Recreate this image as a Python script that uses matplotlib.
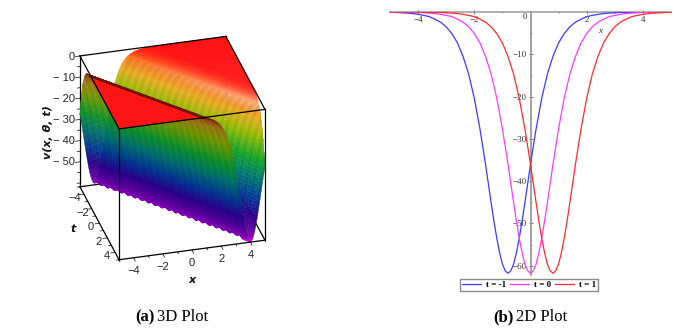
#! /usr/bin/env python
# two panel figure: surface v(x,t) on the left, cuts at t=-1,0,1 on the right
import numpy as np
import matplotlib
matplotlib.use('Agg')
import matplotlib.pyplot as plt
from matplotlib.colors import LinearSegmentedColormap
from mpl_toolkits.mplot3d import proj3d
from mpl_toolkits.mplot3d.art3d import Poly3DCollection

W, H = 688, 329

xi_half = [0, .1, .2, .3, .4, .5, .6, .7, .8, 1, 1.2, 1.4, 1.6, 1.8, 2, 2.2, 2.4, 2.6, 2.8, 3, 3.25, 3.5, 3.75, 4, 4.5, 5, 6, 7, 8, 9.5]
v_half = [-61.8, -61.2, -59.6, -56.9, -53.5, -49.5, -45.1, -40.6, -36.0, -27.6, -20.4, -14.7, -10.5, -7.3, -5.1, -3.5, -2.4, -1.7, -1.1,
          -.8, -.5, -.3, -.2, -.1, -.05, -.02, 0, 0, 0, 0]
# where the trough sits for each cut in the right panel
curve_centre = [-.8, 0, .8]
curve_colors = ['#3a3aff', '#ff3aff', '#ff2a2a']
curve_labels = ['t = -1', 't = 0', 't = 1']
trough_speed = .8  # trough x per unit t, from both panels

x_ticks_2d = [-4, -2, 2, 4]
v_ticks_2d = [-10, -20, -30, -40, -50, -60]
x_ticks_3d = [-4, -2, 0, 2, 4]
t_ticks_3d = [-4, -2, 0, 2, 4]
v_ticks_3d = [0, -10, -20, -30, -40, -50]

# colour against height, top of the surface is red
hue_z = [-61.8, -60.3, -56, -50, -42, -33, -25, -15, -8, -3, 0]
hue_colors = ['#ff10ff', '#8a00c0', '#5a00a0', '#2a0090', '#003f9a', '#008070', '#12a82a', '#98c000', '#eeb020', '#ff7018', '#ff1414']

xi = np.r_[-np.array(xi_half[:0:-1]), xi_half]
prof = np.r_[v_half[:0:-1], v_half]
zmin, zmax = -61.8, 0

plt.rcParams['font.family'] = ['Liberation Serif', 'DejaVu Serif']
fig = plt.figure(figsize=(W/100., H/100.), dpi=100)

# ---- 3D panel
side = 254.
cx, cy = 169., 151.5
ax3 = fig.add_axes([(cx-side/2)/W, 1-(cy+side/2)/H, side/W, side/H], projection='3d', proj_type='ortho')
ax3.set_xlim(-5, 5, view_margin=0)
ax3.set_ylim(5, -5, view_margin=0)
ax3.set_zlim(zmin, zmax, view_margin=0)
ax3.set_box_aspect((1, 1, 1))
ax3.view_init(elev=30, azim=-105)
ax3.set_xticks([])
ax3.set_yticks([])
ax3.set_zticks([])
ax3.set_axis_off()
ax3.computed_zorder = False

# split each profile segment so colours run smoothly down the slope
fine_xi = np.unique(np.concatenate([np.linspace(a, b, int(np.ceil((b-a)/.04))+1) for a, b in zip(xi[:-1], xi[1:])]))
fine_v = np.interp(fine_xi, xi, prof)
rows = np.linspace(-5, 5, 47)
cmap = LinearSegmentedColormap.from_list('zhue', [((z-zmin)/(zmax-zmin), c) for z, c in zip(hue_z, hue_colors)])

def row_z(j):
    # coarse mesh in the original misses the deepest point, which makes the teeth along the bottom
    miss = .012 if j % 2 == 0 else .028
    if j >= len(rows)-3:
        miss = 0.
    return fine_v*(1-miss*(fine_v/zmin)**8)

def row_verts(j):
    # x along one row, cut at the box wall with z taken at the cut
    x = np.clip(fine_xi + trough_speed*rows[j], -5, 5)
    return x, np.interp(x - trough_speed*rows[j], fine_xi, row_z(j))

faces, cols = [], []
for j in range(len(rows)-1):
    t0, t1 = rows[j], rows[j+1]
    x0, z0 = row_verts(j)
    x1, z1 = row_verts(j+1)
    keep = np.where((x0[1:]-x0[:-1] + x1[1:]-x1[:-1]) > 0)[0]
    for i in keep:
        q = [(x0[i], t0, z0[i]), (x0[i+1], t0, z0[i+1]), (x1[i+1], t1, z1[i+1]), (x1[i], t1, z1[i])]
        z = .25*(z0[i]+z0[i+1]+z1[i]+z1[i+1])
        c = np.array(cmap((z-zmin)/(zmax-zmin))[:3])
        if fine_xi[i] < 0:
            if z < -.4:
                c = c*(1-.55*np.exp(z/16.))  # underside, seen darker
        else:
            c = c + (1-c)*.5*np.exp(-((z+3.2)/2.2)**2)*(t0+5)/10.  # highlight under the shoulder
        if z < -3 and j % 2 == 1:
            c = c*.93
        faces.append(q)
        cols.append(np.clip(c, 0, 1))

surf = Poly3DCollection(faces, facecolors=cols, edgecolors=cols, linewidths=.25, zsort='average')
surf.set_zorder(2)
ax3.add_collection3d(surf)

# box lines: the hidden ones go under the surface
def seg3(a, b, z=3, lw=.9, c='k'):
    ax3.plot([a[0], b[0]], [a[1], b[1]], [a[2], b[2]], color=c, lw=lw, zorder=z)

# labels placed at the projected spot of their 3D position
def label3(x, y, z, s, **kw):
    px, py, _ = proj3d.proj_transform(x, y, z, ax3.get_proj())
    ax3.text2D(px, py, s, transform=ax3.transData, **kw)

for a, b in [((-5, -5, zmin), (5, -5, zmin)), ((5, -5, zmin), (5, 5, zmin)), ((5, -5, zmin), (5, -5, 0))]:
    seg3(a, b, z=1)
for a, b in [((-5, 5, 0), (5, 5, 0)), ((-5, 5, 0), (-5, 5, zmin)), ((-5, 5, zmin), (5, 5, zmin)), ((5, 5, 0), (5, 5, zmin)),
             ((-5, -5, 0), (-5, 5, 0)), ((-5, -5, 0), (5, -5, 0)), ((5, -5, 0), (5, 5, 0)), ((-5, -5, zmin), (-5, 5, zmin))]:
    seg3(a, b)
seg3((-5, -5, 0), (-5, -5, zmin), z=1.5)

lab3 = dict(family=['Liberation Sans', 'DejaVu Sans'], fontsize=8, color='#222222', ha='center', va='center')
for x in range(-5, 6):
    seg3((x, 5, zmin), (x, 5.45 if x in x_ticks_3d else 5.25, zmin), lw=.5)
for t in range(-5, 6):
    seg3((-5, t, zmin), (-5.3 if t in t_ticks_3d else -5.18, t, zmin), lw=.5)
for v in range(0, -61, -5):
    seg3((-5, -5, v), (-5.3 if v in v_ticks_3d else -5.18, -5, v), lw=.5)
for x in x_ticks_3d:
    label3(x, 5, zmin-6.2, str(x).replace('-', '\u2212'), **lab3)
for t in t_ticks_3d:
    label3(-5.6, t, zmin-1.3, str(t).replace('-', '\u2212'), **lab3)
for v in v_ticks_3d:
    label3(-5.35, -5, v, str(v).replace('-', '\u2212 '), ha='right', va='center', color='#222222', fontsize=8,
           family=['Liberation Sans', 'DejaVu Sans'])
b3 = dict(family=['DejaVu Sans'], fontsize=8, fontweight='bold', fontstyle='italic', ha='center', va='center', color='#111111')
label3(0, 5, zmin-14, 'x', **b3)
label3(-6.8, 0, zmin-1, 't', **b3)
fig.text(48/W, 1-132/H, 'v(x, \u03b8, t)', rotation=90, **b3)

# ---- 2D panel
x0px, x1px, top, bot = 390., 671., 12., 275.
ax = fig.add_axes([x0px/W, 1-bot/H, (x1px-x0px)/W, (bot-top)/H])
for c, col, lab in zip(curve_centre, curve_colors, curve_labels):
    ax.plot(xi+c, prof, color=col, lw=.9, label=lab, zorder=3)
ax.set_xlim(-5, 5)
ax.set_ylim(-62.2, 0)
ax.patch.set_visible(False)
for s in ['right', 'top']:
    ax.spines[s].set_visible(False)
ax.spines['left'].set_position(('data', 0))
ax.spines['bottom'].set_position(('data', 0))
ax.spines['left'].set_color('#9a9a9a')
ax.spines['bottom'].set_color('#9a9a9a')
ax.spines['left'].set_linewidth(1.3)
ax.spines['bottom'].set_linewidth(1.1)
ax.set_xticks(x_ticks_2d)
ax.set_xticklabels([str(x).replace('-', '\u2212') for x in x_ticks_2d])
ax.set_xticks(range(-5, 6), minor=True)
ax.set_yticks(v_ticks_2d)
ax.set_yticklabels([str(v).replace('-', '\u2212') for v in v_ticks_2d])
ax.set_yticks(range(-60, 0, 5), minor=True)
ax.tick_params(axis='both', which='major', length=2.5, width=.5, labelsize=6.5, colors='#333333', direction='inout', pad=1.5)
ax.tick_params(axis='both', which='minor', length=1.5, width=.4, colors='#555555', direction='inout')
ax.text(-.12, -1.1, '0', fontsize=6.5, color='#333333', ha='right', va='center')
ax.text(2.48, -4.6, 'x', fontsize=6.5, fontstyle='italic', color='#333333', ha='center', va='center')
leg = fig.legend(loc='center', bbox_to_anchor=(529./W, 1-285./H), ncol=3, frameon=True, fancybox=False,
                 edgecolor='#8a8a8a', framealpha=1, handlelength=2.1, handletextpad=.5, columnspacing=.5, borderpad=.25,
                 borderaxespad=0, prop=dict(family='Liberation Serif', size=6.5, weight='bold'))
leg.get_frame().set_linewidth(1)

# ---- captions
def caption(x, bold, rest):
    t = fig.text(x/W, 1-317/H, bold, fontsize=12, fontweight='bold', color='k', ha='left', va='center')
    fig.canvas.draw()
    e = t.get_window_extent()
    fig.text((e.x1+3)/W, 1-317/H, rest, fontsize=12, color='k', ha='left', va='center')

caption(135, '(a)', '3D Plot')
caption(493, '(b)', '2D Plot')

fig.savefig('out.png', dpi=100)
